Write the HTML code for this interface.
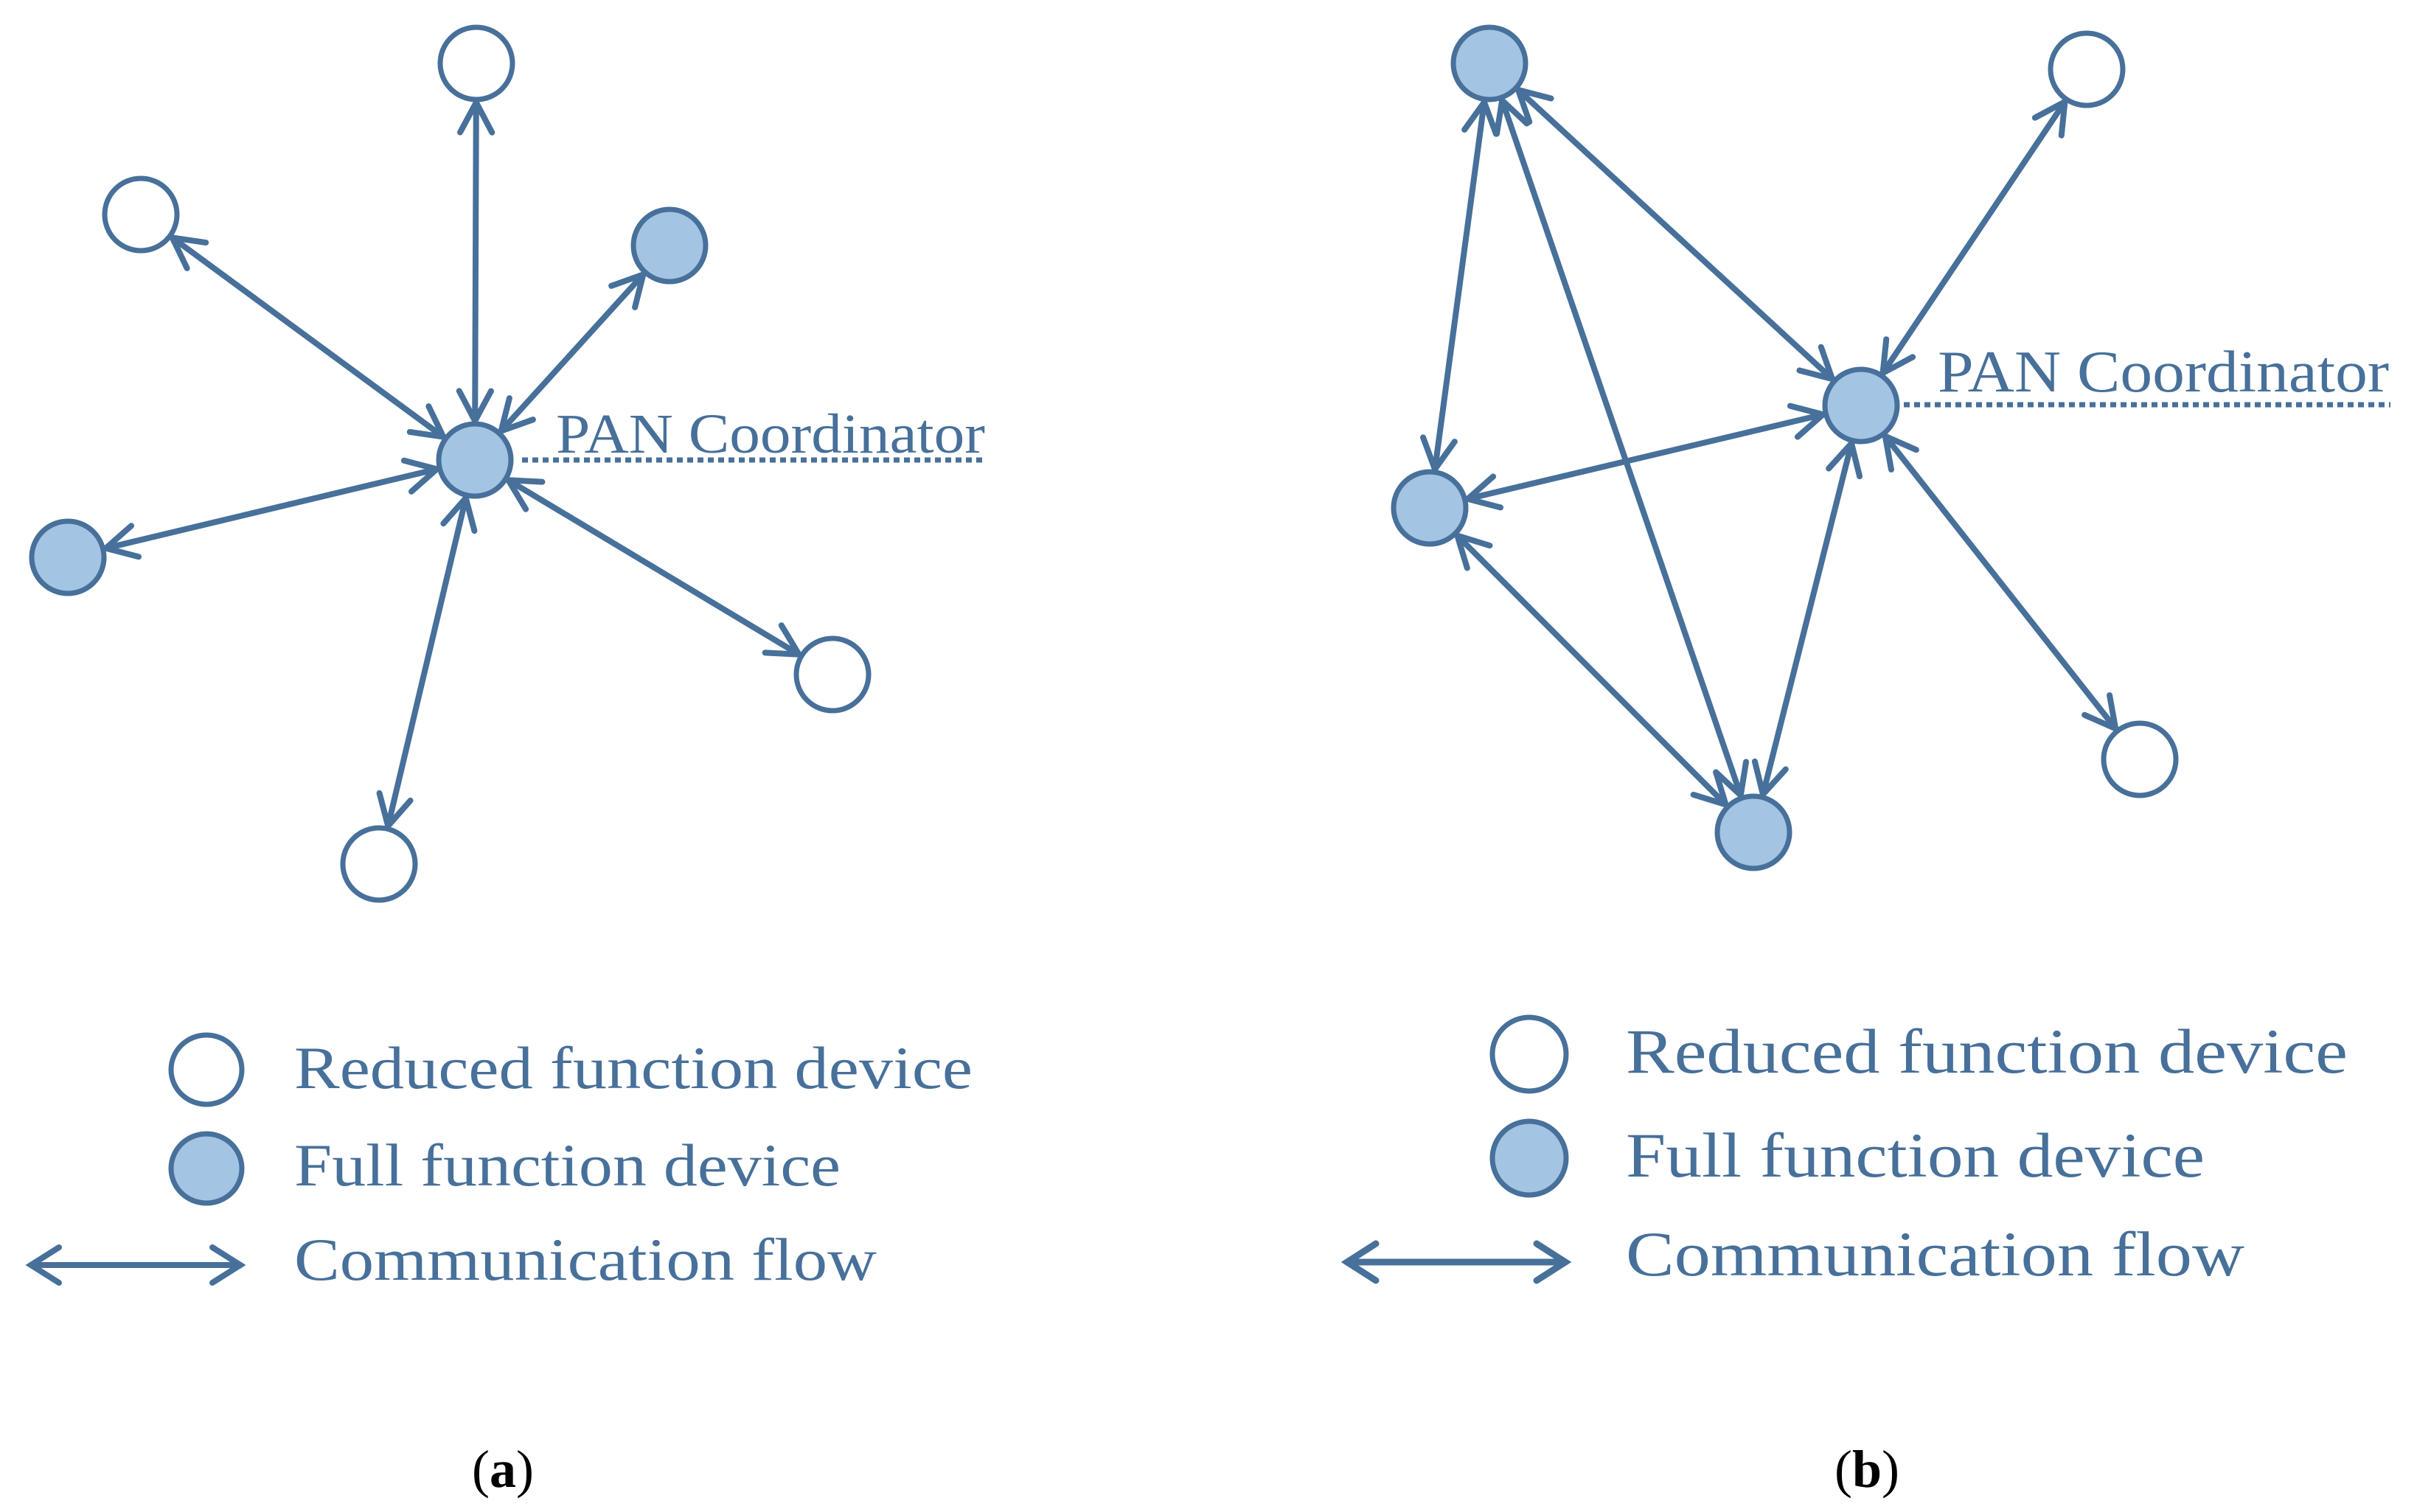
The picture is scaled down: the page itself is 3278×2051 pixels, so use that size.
<!DOCTYPE html>
<html><head><meta charset="utf-8">
<style>
html,body{margin:0;padding:0;background:#fff;}
svg{display:block;}
text{font-family:"Liberation Serif",serif;fill:#47709a;}
</style></head>
<body>
<svg id="s" width="3278" height="2051" viewBox="0 0 3278 2051" xmlns="http://www.w3.org/2000/svg">
<g id="edges" stroke="#47709a" stroke-width="8" stroke-linecap="round" fill="none"></g>
<g id="nodes" stroke="#47709a" stroke-width="7"></g>
<!-- PAN labels -->
<text x="754" y="614" font-size="76" textLength="582" lengthAdjust="spacingAndGlyphs">PAN Coordinator</text>
<line x1="708" y1="624" x2="1336" y2="624" stroke="#47709a" stroke-width="7" stroke-dasharray="8,6"/>
<text x="2628" y="531" font-size="80" textLength="612" lengthAdjust="spacingAndGlyphs">PAN Coordinator</text>
<line x1="2582" y1="549" x2="3242" y2="549" stroke="#47709a" stroke-width="7" stroke-dasharray="8,6"/>
<!-- legend left -->
<ellipse cx="280" cy="1451" rx="48" ry="47" fill="#fff" stroke="#47709a" stroke-width="7"/>
<text x="399" y="1476" font-size="82" textLength="920" lengthAdjust="spacingAndGlyphs">Reduced function device</text>
<ellipse cx="280" cy="1585" rx="48" ry="47" fill="#a3c4e2" stroke="#47709a" stroke-width="7"/>
<text x="399" y="1608" font-size="82" textLength="741" lengthAdjust="spacingAndGlyphs">Full function device</text>
<g stroke="#47709a" stroke-width="8" stroke-linecap="round" fill="none">
<line x1="42" y1="1716" x2="326" y2="1716"/>
<polyline points="80,1692 42,1716 80,1740"/>
<polyline points="288,1692 326,1716 288,1740"/>
</g>
<text x="399" y="1736" font-size="82" textLength="790" lengthAdjust="spacingAndGlyphs">Communication flow</text>
<!-- legend right -->
<ellipse cx="2074" cy="1430" rx="50" ry="50" fill="#fff" stroke="#47709a" stroke-width="7"/>
<text x="2205" y="1455" font-size="86" textLength="979" lengthAdjust="spacingAndGlyphs">Reduced function device</text>
<ellipse cx="2074" cy="1571" rx="50" ry="50" fill="#a3c4e2" stroke="#47709a" stroke-width="7"/>
<text x="2205" y="1596" font-size="86" textLength="785" lengthAdjust="spacingAndGlyphs">Full function device</text>
<g stroke="#47709a" stroke-width="9" stroke-linecap="round" fill="none">
<line x1="1827" y1="1712" x2="2123" y2="1712"/>
<polyline points="1866,1687 1827,1712 1866,1737"/>
<polyline points="2084,1687 2123,1712 2084,1737"/>
</g>
<text x="2205" y="1730" font-size="86" textLength="839" lengthAdjust="spacingAndGlyphs">Communication flow</text>
<!-- captions -->
<text x="640" y="2017" font-size="72" style="fill:#000">(<tspan font-weight="bold">a</tspan>)</text>
<text x="2488" y="2017" font-size="72" style="fill:#000">(<tspan font-weight="bold">b</tspan>)</text>
</svg>
<script>
var NS="http://www.w3.org/2000/svg";
var E=document.getElementById("edges"),N=document.getElementById("nodes");
function el(t,a,p){var e=document.createElementNS(NS,t);for(var k in a)e.setAttribute(k,a[k]);p.appendChild(e);return e;}
var R=53,L=46,ANG=28*Math.PI/180;
function head(x,y,ux,uy){ // tip at x,y pointing in direction u
  var bx=-ux,by=-uy;
  var c=Math.cos(ANG),s=Math.sin(ANG);
  var w1x=bx*c-by*s,w1y=bx*s+by*c,w2x=bx*c+by*s,w2y=-bx*s+by*c;
  el("polyline",{points:(x+w1x*L)+","+(y+w1y*L)+" "+x+","+y+" "+(x+w2x*L)+","+(y+w2y*L)},E);
}
function edge(a,b){
  var dx=b[0]-a[0],dy=b[1]-a[1],d=Math.hypot(dx,dy),ux=dx/d,uy=dy/d;
  var x1=a[0]+ux*R,y1=a[1]+uy*R,x2=b[0]-ux*R,y2=b[1]-uy*R;
  el("line",{x1:x1,y1:y1,x2:x2,y2:y2},E);
  head(x1,y1,-ux,-uy);head(x2,y2,ux,uy);
}
function node(p,f){el("circle",{cx:p[0],cy:p[1],r:49,fill:f?"#a3c4e2":"#fff"},N);}
// left diagram
var C=[644,624],T=[646,86],UL=[191,291],UR=[908,333],LF=[92,756],BR=[1129,915],B=[514,1172];
[T,UL,UR,LF,BR,B].forEach(function(p){edge(C,p);});
node(C,1);node(T,0);node(UL,0);node(UR,1);node(LF,1);node(BR,0);node(B,0);
// right diagram
var TL=[2020,86],P=[2524,550],TR=[2830,94],L2=[1939,689],B2=[2378,1129],BR2=[2902,1030];
edge(TL,P);edge(TL,L2);edge(TL,B2);edge(P,TR);edge(P,L2);edge(P,B2);edge(P,BR2);edge(L2,B2);
node(TL,1);node(P,1);node(TR,0);node(L2,1);node(B2,1);node(BR2,0);
</script>
</body></html>
